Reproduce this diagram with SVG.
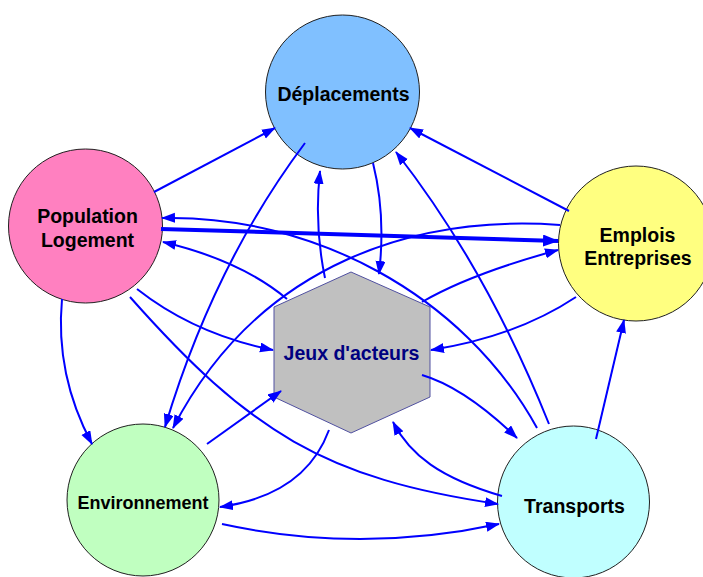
<svg xmlns="http://www.w3.org/2000/svg" width="703" height="577" viewBox="0 0 703 577">
<style>
.node{stroke:#202020;stroke-width:1}
.lbl{font-family:"Liberation Sans",Arial,sans-serif;font-weight:bold;font-size:19.5px;fill:#000;text-anchor:middle}
.c{fill:none;stroke:#0000ff;stroke-width:2;marker-end:url(#ah)}
.thick{stroke-width:4;marker-end:url(#ahb)}
</style>
<defs>
<marker id="ah" markerUnits="userSpaceOnUse" markerWidth="16" markerHeight="12" refX="13" refY="5" orient="auto">
<path d="M0,0 L14,5 L0,10 Z" fill="#0000ff"/>
</marker>
<marker id="ahb" markerUnits="userSpaceOnUse" markerWidth="18" markerHeight="14" refX="15" refY="6" orient="auto">
<path d="M0,0 L16,6 L0,12 Z" fill="#0000ff"/>
</marker>
</defs>
<rect width="703" height="577" fill="#ffffff"/>
<g id="nodes">
<g id="deplacements"><circle class="node" cx="342.5" cy="92" r="77" fill="#80c0ff"/><text class="lbl" x="343.5" y="101">Déplacements</text></g>
<g id="population"><circle class="node" cx="85.5" cy="226" r="77" fill="#ff80c0"/><text class="lbl" x="87.5" y="223">Population</text><text class="lbl" x="87.5" y="247">Logement</text></g>
<g id="emplois"><circle class="node" cx="636" cy="243.5" r="77.5" fill="#ffff80"/><text class="lbl" x="637.5" y="242">Emplois</text><text class="lbl" x="638" y="265">Entreprises</text></g>
<g id="environnement"><circle class="node" cx="143" cy="500" r="76" fill="#c0ffc0"/><text class="lbl" x="143" y="509" style="font-size:18px">Environnement</text></g>
<g id="transports"><circle class="node" cx="573.5" cy="502" r="76" fill="#c0ffff"/><text class="lbl" x="574.5" y="513">Transports</text></g>
<g id="jeux"><polygon points="351,272 430,307 430,397 351,433 274,397 274,307" fill="#c0c0c0" stroke="#5050a0" stroke-width="1"/><text class="lbl" x="351.5" y="360" style="fill:#000080">Jeux d'acteurs</text></g>
</g>
<g id="connectors">
<path class="c" d="M154,192 L275,128"/>
<path class="c" d="M305,143 Q213.6,264.8 165,427"/>
<path class="c" d="M560,225 C420,215 260,260 173,428"/>
<path class="c thick" d="M161,229 L558,241"/>
<path class="c" d="M537,428 C463,293.5 311,214.5 162,218"/>
<path class="c" d="M287,299 Q241,260.5 163,242"/>
<path class="c" d="M325,278 Q314,225 320,171"/>
<path class="c" d="M373,163 Q386,215 379,274"/>
<path class="c" d="M569,211 L410,128"/>
<path class="c" d="M549,424 Q486.8,268.4 396,152"/>
<path class="c" d="M422,302 Q470,274 558,250"/>
<path class="c" d="M576,297 Q516.5,336.5 431,350"/>
<path class="c" d="M137,289 Q195,334.5 273,350"/>
<path class="c" d="M62,299 Q55,375 92,444"/>
<path class="c" d="M207,444 L281,391"/>
<path class="c" d="M329,430 Q305,495 220,507"/>
<path class="c" d="M222,524 Q360,554 499,524"/>
<path class="c" d="M422,375 Q464.5,387.5 517,438"/>
<path class="c" d="M502,496 C440,478 410,455 393,422"/>
<path class="c" d="M130,297 C249.7,432 324.3,478.5 498,504"/>
<path class="c" d="M596,439 L624,320"/>
</g>
</svg>
